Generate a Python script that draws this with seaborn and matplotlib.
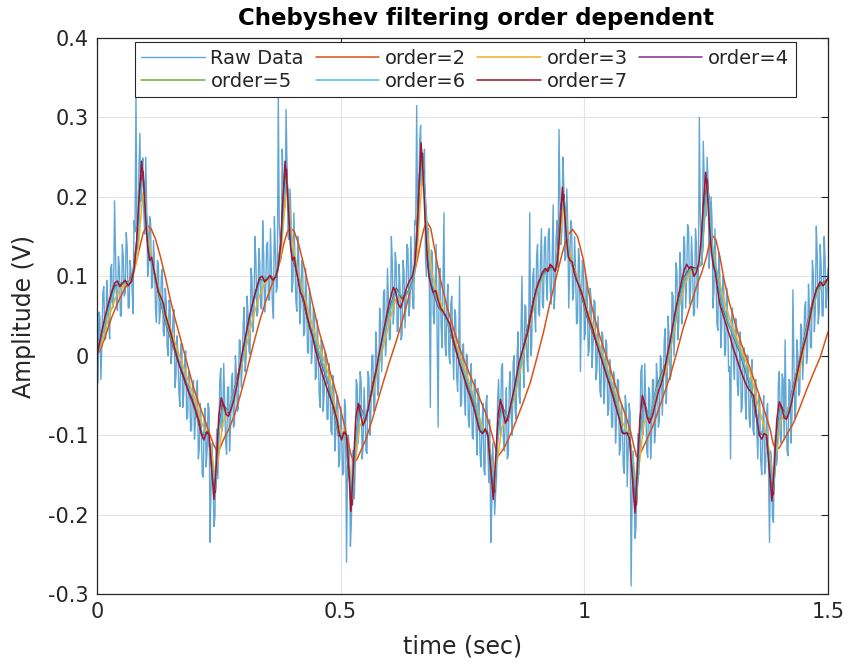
import numpy as np
import matplotlib
matplotlib.use("Agg")
import matplotlib.pyplot as plt
from matplotlib.ticker import FormatStrFormatter
import seaborn as sns

# ---------------- data ----------------
# raw samples (V) on the even 4 ms grid from 0 to 1.5 s
raw_v = [
    # period 1
    0.010, 0.055, -0.030, 0.080, 0.020, 0.095, 0.040, 0.110, 0.060, 0.195,
    0.065, 0.125, 0.050, 0.140, 0.075, 0.155, 0.060, 0.120, 0.085, 0.170,
    0.330, 0.150, 0.280, 0.230, 0.180, 0.250, 0.100, 0.175, 0.085, 0.145,
    0.060, 0.120, 0.040, 0.100, 0.030, 0.085, 0.010, 0.070, -0.010, 0.050,
    -0.040, 0.025, -0.045, 0.015, -0.065, -0.005, -0.080, -0.020, -0.095, -0.035,
    -0.105, -0.045, -0.130, -0.060, -0.150, -0.080, -0.140, -0.060, -0.235, -0.110,
    -0.215, -0.120, -0.155, -0.030, -0.095, -0.010, -0.110, -0.040, -0.120, -0.030,
    -0.090, 0.000, -0.070, 0.020, -0.040,
    # period 2
    0.040, -0.020, 0.075, 0.005, 0.110, 0.030, 0.150, 0.050, 0.135, 0.060,
    0.170, 0.055, 0.140, 0.070, 0.160, 0.065, 0.175, 0.080, 0.330, 0.140,
    0.260, 0.190, 0.310, 0.150, 0.210, 0.080, 0.180, 0.070, 0.150, 0.040,
    0.120, 0.025, 0.110, 0.005, 0.085, -0.010, 0.060, -0.030, 0.045, -0.050,
    0.020, -0.070, 0.005, -0.080, -0.010, -0.095, -0.025, -0.120, -0.050, -0.140,
    -0.065, -0.150, -0.055, -0.260, -0.100, -0.240, -0.130, -0.180, -0.030, -0.110,
    -0.020, -0.130, -0.040, -0.120, -0.020, -0.100,
    # period 3
    0.000, -0.070, 0.030, -0.050, 0.060, -0.020, 0.080, 0.000, 0.110, 0.020,
    0.150, 0.040, 0.130, 0.030, 0.115, 0.020, 0.120, 0.035, 0.140, 0.050,
    0.150, 0.060, 0.170, 0.315, 0.180, 0.290, 0.220, 0.260, 0.100, 0.160,
    -0.065, 0.130, 0.040, 0.140, -0.090, 0.110, 0.010, 0.180, 0.000, 0.090,
    -0.010, 0.075, -0.030, 0.050, -0.045, 0.100, -0.060, 0.015, -0.075, 0.000,
    -0.090, -0.010, -0.105, -0.030, -0.125, -0.050, -0.140, -0.060, -0.150, -0.050,
    -0.160, -0.235, -0.110, -0.200, -0.150, -0.030, -0.100, -0.010, -0.120, -0.040,
    -0.125, -0.020, -0.100, 0.000,
    # period 4
    -0.080, 0.030, -0.060, 0.100, -0.040, 0.060, -0.020, 0.180, 0.010, 0.110,
    0.030, 0.140, 0.050, 0.160, 0.060, 0.150, 0.070, 0.160, 0.065, 0.190,
    0.080, 0.170, 0.285, 0.140, 0.250, 0.120, 0.210, 0.060, 0.170, 0.070,
    0.150, 0.040, 0.135, -0.020, 0.120, 0.020, 0.100, 0.000, 0.085, -0.015,
    0.070, -0.030, 0.050, -0.045, 0.030, -0.060, 0.020, -0.075, -0.005, -0.090,
    -0.020, -0.110, -0.030, -0.125, -0.060, -0.140, -0.050, -0.165, -0.060, -0.290,
    -0.120, -0.230, -0.140, -0.150, -0.020, -0.100, -0.010, -0.120, -0.040, -0.130,
    -0.030, -0.110, -0.010, -0.090, 0.000, -0.075, 0.020,
    # period 5
    -0.060, 0.050, -0.030, 0.080, 0.000, 0.117, 0.020, 0.130, 0.040, 0.150,
    0.060, 0.165, 0.065, 0.150, 0.050, 0.160, 0.060, 0.300, 0.140, 0.270,
    0.180, 0.250, 0.110, 0.200, 0.060, 0.160, 0.040, 0.130, 0.010, 0.100,
    0.000, 0.085, -0.020, -0.130, 0.060, -0.030, 0.045, -0.050, 0.030, -0.065,
    0.010, -0.080, 0.000, -0.090, -0.005, -0.100, -0.030, -0.130, -0.060, -0.150,
    -0.050, -0.140, -0.060, -0.235, -0.130, -0.210, -0.100, -0.130, -0.020, -0.110,
    -0.030, 0.020, -0.120, -0.030, -0.110, 0.083, -0.080, 0.020, -0.050, 0.040,
    -0.030, 0.060, -0.010, 0.090, 0.010, 0.120, 0.030, 0.163, 0.040, 0.140,
    0.050, 0.150, 0.060, 0.110,
]

# raw samples (V) taken half-way between the samples above (2 ms later)
raw_mid = [
    # period 1
    -0.034, 0.048, 0.015, 0.087, 0.022, 0.072, 0.021, 0.115, 0.067, 0.132,
    0.057, 0.110, 0.050, 0.123, 0.079, 0.136, 0.060, 0.105, 0.053, 0.156,
    0.134, 0.234, 0.194, 0.249, 0.153, 0.184, 0.114, 0.167, 0.087, 0.114,
    0.042, 0.117, 0.055, 0.109, 0.025, 0.069, 0.000, 0.062, 0.008, 0.058,
    -0.026, 0.004, -0.064, 0.015, -0.047, 0.006, -0.077, -0.028, -0.094, -0.031,
    -0.083, -0.031, -0.116, -0.087, -0.153, -0.066, -0.118, -0.067, -0.167, -0.145,
    -0.203, -0.092, -0.098, -0.016, -0.089, -0.057, -0.124, -0.039, -0.090, -0.022,
    -0.087, -0.021, -0.067, 0.019, -0.012,
    # period 2
    0.061, -0.002, 0.051, 0.002, 0.098, 0.053, 0.122, 0.055, 0.117, 0.059,
    0.126, 0.080, 0.143, 0.070, 0.108, 0.047, 0.135, 0.087, 0.164, 0.122,
    0.220, 0.187, 0.237, 0.146, 0.176, 0.092, 0.127, 0.056, 0.126, 0.060,
    0.113, 0.030, 0.074, 0.003, 0.064, 0.009, 0.058, -0.027, 0.003, -0.065,
    0.013, -0.050, 0.002, -0.080, -0.032, -0.099, -0.039, -0.098, -0.050, -0.132,
    -0.091, -0.148, -0.068, -0.144, -0.123, -0.209, -0.119, -0.135, -0.038, -0.081,
    -0.033, -0.115, -0.072, -0.123, -0.027, -0.071,
    # period 3
    0.001, -0.063, 0.005, -0.040, 0.043, 0.010, 0.083, 0.020, 0.070, 0.021,
    0.117, 0.064, 0.116, 0.032, 0.083, 0.026, 0.105, 0.068, 0.135, 0.065,
    0.110, 0.059, 0.165, 0.153, 0.268, 0.213, 0.235, 0.125, 0.154, 0.085,
    0.133, 0.052, 0.090, 0.025, 0.101, 0.040, 0.096, 0.017, 0.067, 0.003,
    0.065, 0.009, 0.058, -0.026, 0.004, -0.064, 0.013, -0.050, 0.002, -0.081,
    -0.033, -0.101, -0.039, -0.093, -0.041, -0.123, -0.087, -0.145, -0.060, -0.118,
    -0.080, -0.191, -0.146, -0.173, -0.058, -0.078, -0.016, -0.105, -0.073, -0.130,
    -0.036, -0.079, -0.008, -0.069,
    # period 4
    0.000, -0.049, 0.031, -0.006, 0.064, -0.002, 0.047, 0.000, 0.099, 0.055,
    0.124, 0.057, 0.119, 0.065, 0.139, 0.094, 0.154, 0.083, 0.123, 0.059,
    0.147, 0.111, 0.203, 0.158, 0.213, 0.123, 0.164, 0.107, 0.162, 0.079,
    0.109, 0.042, 0.121, 0.060, 0.112, 0.028, 0.074, 0.007, 0.070, 0.017,
    0.067, -0.016, 0.016, -0.052, 0.025, -0.038, 0.014, -0.068, -0.021, -0.090,
    -0.029, -0.082, -0.031, -0.117, -0.085, -0.148, -0.063, -0.119, -0.073, -0.178,
    -0.159, -0.215, -0.098, -0.098, -0.012, -0.086, -0.057, -0.128, -0.047, -0.099,
    -0.030, -0.095, -0.030, -0.082, -0.004, -0.039, 0.034,
    # period 5
    -0.029, 0.022, -0.024, 0.075, 0.034, 0.106, 0.043, 0.110, 0.060, 0.139,
    0.098, 0.157, 0.081, 0.117, 0.053, 0.142, 0.095, 0.175, 0.135, 0.227,
    0.176, 0.218, 0.136, 0.171, 0.082, 0.109, 0.032, 0.102, 0.037, 0.089,
    0.006, 0.054, -0.014, 0.047, -0.006, 0.047, -0.036, -0.004, -0.071, 0.008,
    -0.054, 0.001, -0.077, -0.025, -0.093, -0.035, -0.095, -0.050, -0.133, -0.092,
    -0.149, -0.072, -0.150, -0.120, -0.203, -0.120, -0.138, -0.037, -0.076, -0.023,
    -0.106, -0.069, -0.126, -0.033, -0.078, -0.005, -0.066, 0.002, -0.046, 0.034,
    -0.002, 0.068, 0.005, 0.059, 0.010, 0.103, 0.058, 0.126, 0.056, 0.112,
    0.050, 0.122, 0.081,
]

# order=2 filter output: (time, value)
order2 = [
    (0.000, 0.000), (0.010, 0.012), (0.020, 0.030), (0.030, 0.048), (0.042, 0.066),
    (0.055, 0.082), (0.068, 0.096), (0.078, 0.112), (0.087, 0.135), (0.095, 0.155),
    (0.103, 0.164), (0.111, 0.160), (0.120, 0.147), (0.130, 0.125), (0.140, 0.100),
    (0.150, 0.072), (0.160, 0.047), (0.172, 0.020), (0.185, -0.010), (0.198, -0.040),
    (0.210, -0.062), (0.222, -0.082), (0.232, -0.100), (0.240, -0.113), (0.246, -0.120),
    (0.252, -0.117), (0.260, -0.105), (0.270, -0.093), (0.282, -0.075), (0.294, -0.050),
    (0.307, -0.020), (0.320, 0.012), (0.333, 0.042), (0.346, 0.068), (0.358, 0.088),
    (0.368, 0.103), (0.376, 0.120), (0.383, 0.140), (0.390, 0.155), (0.397, 0.161),
    (0.405, 0.156), (0.414, 0.140), (0.424, 0.115), (0.434, 0.088), (0.445, 0.058),
    (0.456, 0.030), (0.468, 0.005), (0.478, -0.020), (0.490, -0.045), (0.499, -0.066),
    (0.508, -0.088), (0.515, -0.108), (0.521, -0.124), (0.527, -0.134), (0.533, -0.131),
    (0.541, -0.120), (0.552, -0.105), (0.565, -0.080), (0.577, -0.055), (0.587, -0.034),
    (0.600, -0.008), (0.615, 0.020), (0.627, 0.045), (0.638, 0.070), (0.648, 0.095),
    (0.657, 0.120), (0.665, 0.145), (0.671, 0.160), (0.677, 0.169), (0.685, 0.160),
    (0.694, 0.130), (0.705, 0.095), (0.718, 0.062), (0.731, 0.035), (0.745, 0.008),
    (0.758, -0.013), (0.772, -0.034), (0.786, -0.055), (0.800, -0.076), (0.810, -0.098),
    (0.816, -0.112), (0.822, -0.127), (0.829, -0.122), (0.838, -0.113), (0.848, -0.100),
    (0.860, -0.082), (0.875, -0.058), (0.889, -0.034), (0.903, -0.002), (0.916, 0.029),
    (0.930, 0.068), (0.943, 0.100), (0.955, 0.130), (0.966, 0.152), (0.976, 0.159),
    (0.986, 0.150), (0.998, 0.121), (1.008, 0.082), (1.020, 0.050), (1.033, 0.022),
    (1.046, -0.002), (1.060, -0.030), (1.073, -0.055), (1.085, -0.076), (1.094, -0.093),
    (1.101, -0.112), (1.107, -0.127), (1.114, -0.124), (1.125, -0.110), (1.141, -0.088),
    (1.158, -0.058), (1.176, -0.026), (1.190, 0.005), (1.203, 0.035), (1.217, 0.062),
    (1.230, 0.087), (1.241, 0.105), (1.251, 0.125), (1.257, 0.143), (1.262, 0.152),
    (1.270, 0.146), (1.278, 0.125), (1.287, 0.095), (1.297, 0.068), (1.310, 0.040),
    (1.322, 0.015), (1.334, -0.005), (1.346, -0.026), (1.358, -0.048), (1.370, -0.070),
    (1.381, -0.092), (1.388, -0.112), (1.394, -0.118), (1.400, -0.116), (1.410, -0.105),
    (1.429, -0.085), (1.443, -0.064), (1.456, -0.043), (1.470, -0.022), (1.484, -0.002),
    (1.500, 0.030),
]

# shared time points for orders 3..6
t_mid = [
    0.000, 0.012, 0.024, 0.036, 0.048, 0.060, 0.072, 0.0835, 0.0885, 0.0945, 0.0995, 0.1055, 0.1135,
    0.1265, 0.1415, 0.1615, 0.1815, 0.2015, 0.215, 0.228, 0.236, 0.243, 0.250, 0.258, 0.270, 0.285,
    0.297, 0.309, 0.321, 0.333, 0.345, 0.357, 0.369, 0.378, 0.383, 0.389, 0.394, 0.400, 0.408,
    0.421, 0.436, 0.456, 0.476, 0.496, 0.509, 0.517, 0.524, 0.531, 0.539, 0.551, 0.566,
    0.578, 0.590, 0.602, 0.614, 0.626, 0.638, 0.650, 0.657, 0.662, 0.668, 0.673, 0.679, 0.687,
    0.700, 0.715, 0.735, 0.755, 0.775, 0.788, 0.801, 0.809, 0.816, 0.823, 0.831, 0.843, 0.858,
    0.870, 0.882, 0.894, 0.906, 0.918, 0.930, 0.942, 0.947, 0.952, 0.958, 0.963, 0.969, 0.977,
    0.990, 1.005, 1.025, 1.045, 1.065, 1.079, 1.092, 1.100, 1.107, 1.114, 1.122, 1.134, 1.149,
    1.170, 1.182, 1.194, 1.206, 1.218, 1.230, 1.241, 1.246, 1.252, 1.257, 1.263, 1.271,
    1.284, 1.299, 1.319, 1.339, 1.360, 1.373, 1.381, 1.388, 1.395, 1.403, 1.415, 1.430,
    1.442, 1.454, 1.466, 1.478, 1.490, 1.500,
]

order3 = [
    0.000, 0.020, 0.048, 0.070, 0.085, 0.090, 0.096, 0.125, 0.165, 0.205, 0.190, 0.150, 0.118,
    0.085, 0.052, 0.014, -0.022, -0.056, -0.085, -0.100, -0.125, -0.155, -0.125, -0.085, -0.070, -0.042,
    -0.012, 0.018, 0.050, 0.075, 0.092, 0.098, 0.102, 0.130, 0.170, 0.210, 0.192, 0.150, 0.118,
    0.085, 0.050, 0.012, -0.025, -0.088, -0.105, -0.135, -0.165, -0.130, -0.088, -0.078, -0.045,
    -0.012, 0.018, 0.048, 0.072, 0.070, 0.080, 0.095, 0.130, 0.180, 0.228, 0.205, 0.150, 0.105,
    0.075, 0.050, 0.018, -0.018, -0.055, -0.085, -0.100, -0.128, -0.155, -0.125, -0.090, -0.078, -0.050,
    -0.015, 0.022, 0.055, 0.085, 0.103, 0.108, 0.110, 0.125, 0.160, 0.190, 0.175, 0.135, 0.115,
    0.092, 0.060, 0.025, -0.012, -0.050, -0.085, -0.100, -0.130, -0.165, -0.130, -0.085, -0.075, -0.048,
    -0.015, 0.025, 0.060, 0.090, 0.105, 0.108, 0.120, 0.165, 0.200, 0.185, 0.140, 0.110,
    0.075, 0.045, 0.012, -0.018, -0.070, -0.098, -0.125, -0.155, -0.122, -0.082, -0.070, -0.045,
    -0.018, 0.020, 0.055, 0.078, 0.090, 0.092,
]

order4 = [
    0.000, 0.032, 0.062, 0.088, 0.090, 0.093, 0.094, 0.155, 0.215, 0.232, 0.190, 0.130, 0.115,
    0.078, 0.040, 0.002, -0.035, -0.068, -0.100, -0.096, -0.145, -0.172, -0.090, -0.060, -0.072, -0.035,
    -0.005, 0.035, 0.070, 0.096, 0.095, 0.099, 0.099, 0.150, 0.210, 0.235, 0.175, 0.125, 0.110,
    0.074, 0.036, 0.000, -0.038, -0.101, -0.097, -0.150, -0.188, -0.105, -0.062, -0.082, -0.035,
    -0.005, 0.032, 0.062, 0.085, 0.072, 0.080, 0.096, 0.165, 0.230, 0.255, 0.200, 0.115, 0.085,
    0.062, 0.050, 0.010, -0.028, -0.062, -0.096, -0.096, -0.140, -0.172, -0.090, -0.062, -0.082, -0.040,
    -0.005, 0.030, 0.065, 0.093, 0.105, 0.112, 0.108, 0.145, 0.190, 0.203, 0.160, 0.122, 0.112,
    0.086, 0.050, 0.016, -0.020, -0.058, -0.098, -0.098, -0.145, -0.188, -0.100, -0.058, -0.080, -0.038,
    -0.005, 0.035, 0.070, 0.100, 0.112, 0.110, 0.115, 0.185, 0.222, 0.190, 0.125, 0.105,
    0.060, 0.035, 0.004, -0.035, -0.098, -0.100, -0.140, -0.175, -0.100, -0.062, -0.078, -0.035,
    -0.005, 0.030, 0.062, 0.085, 0.092, 0.096,
]

order5 = [
    0.000, 0.030, 0.060, 0.085, 0.091, 0.092, 0.095, 0.148, 0.205, 0.225, 0.192, 0.135, 0.114,
    0.080, 0.042, 0.004, -0.032, -0.066, -0.098, -0.098, -0.140, -0.168, -0.095, -0.065, -0.070, -0.037,
    -0.006, 0.033, 0.068, 0.094, 0.097, 0.098, 0.100, 0.145, 0.200, 0.228, 0.180, 0.128, 0.112,
    0.076, 0.038, 0.002, -0.036, -0.099, -0.099, -0.145, -0.180, -0.110, -0.066, -0.080, -0.037,
    -0.006, 0.030, 0.060, 0.083, 0.074, 0.079, 0.095, 0.158, 0.220, 0.248, 0.205, 0.120, 0.090,
    0.064, 0.049, 0.012, -0.026, -0.060, -0.094, -0.098, -0.136, -0.168, -0.095, -0.066, -0.080, -0.042,
    -0.006, 0.028, 0.062, 0.091, 0.104, 0.110, 0.109, 0.140, 0.182, 0.198, 0.165, 0.125, 0.110,
    0.088, 0.052, 0.018, -0.018, -0.056, -0.096, -0.099, -0.140, -0.182, -0.105, -0.062, -0.078, -0.040,
    -0.006, 0.033, 0.068, 0.098, 0.110, 0.109, 0.116, 0.178, 0.215, 0.192, 0.130, 0.106,
    0.062, 0.036, 0.006, -0.033, -0.096, -0.101, -0.136, -0.170, -0.105, -0.066, -0.076, -0.037,
    -0.006, 0.028, 0.060, 0.083, 0.091, 0.095,
]

order6 = [
    0.000, 0.028, 0.058, 0.083, 0.092, 0.091, 0.096, 0.145, 0.200, 0.222, 0.195, 0.138, 0.113,
    0.082, 0.044, 0.006, -0.030, -0.064, -0.096, -0.100, -0.138, -0.166, -0.098, -0.068, -0.070, -0.039,
    -0.008, 0.031, 0.066, 0.092, 0.098, 0.097, 0.101, 0.142, 0.195, 0.222, 0.183, 0.130, 0.113,
    0.078, 0.040, 0.004, -0.034, -0.097, -0.101, -0.142, -0.176, -0.112, -0.068, -0.079, -0.039,
    -0.008, 0.028, 0.058, 0.081, 0.076, 0.078, 0.094, 0.152, 0.213, 0.240, 0.208, 0.125, 0.093,
    0.066, 0.048, 0.014, -0.024, -0.058, -0.092, -0.100, -0.133, -0.165, -0.098, -0.068, -0.079, -0.044,
    -0.008, 0.026, 0.060, 0.089, 0.103, 0.108, 0.110, 0.137, 0.178, 0.195, 0.168, 0.127, 0.109,
    0.090, 0.054, 0.020, -0.016, -0.054, -0.094, -0.100, -0.137, -0.178, -0.108, -0.064, -0.077, -0.042,
    -0.008, 0.031, 0.066, 0.096, 0.108, 0.108, 0.117, 0.173, 0.210, 0.194, 0.133, 0.107,
    0.064, 0.037, 0.008, -0.031, -0.094, -0.102, -0.133, -0.167, -0.108, -0.068, -0.075, -0.039,
    -0.008, 0.026, 0.058, 0.081, 0.090, 0.094,
]

# order=7 filter output: (time, value)
order7 = [
    (0.000, 0.000), (0.008, 0.025), (0.016, 0.048), (0.024, 0.067), (0.031, 0.082), (0.037, 0.092),
    (0.042, 0.094), (0.047, 0.087), (0.053, 0.092), (0.058, 0.095), (0.064, 0.088), (0.070, 0.093),
    (0.076, 0.108), (0.081, 0.140), (0.086, 0.195), (0.0915, 0.245), (0.096, 0.215), (0.100, 0.170),
    (0.104, 0.138), (0.108, 0.120), (0.112, 0.124), (0.116, 0.110), (0.121, 0.095), (0.126, 0.080),
    (0.131, 0.074), (0.136, 0.066), (0.141, 0.050), (0.147, 0.038), (0.153, 0.025), (0.160, 0.008),
    (0.167, -0.008), (0.174, -0.020), (0.181, -0.032), (0.188, -0.045), (0.195, -0.055), (0.202, -0.068),
    (0.209, -0.082), (0.214, -0.098), (0.219, -0.106), (0.225, -0.096), (0.230, -0.100), (0.235, -0.140),
    (0.240, -0.181), (0.245, -0.135), (0.250, -0.075), (0.255, -0.053), (0.260, -0.062), (0.265, -0.074),
    (0.270, -0.076), (0.275, -0.068), (0.281, -0.055), (0.287, -0.038), (0.292, -0.018),
    (0.297, 0.000), (0.305, 0.025), (0.313, 0.050), (0.321, 0.070), (0.328, 0.086), (0.334, 0.098),
    (0.339, 0.100), (0.344, 0.093), (0.350, 0.097), (0.355, 0.101), (0.361, 0.095), (0.367, 0.100),
    (0.372, 0.112), (0.377, 0.140), (0.381, 0.190), (0.386, 0.245), (0.390, 0.215), (0.394, 0.170),
    (0.397, 0.138), (0.401, 0.120), (0.405, 0.124), (0.408, 0.110), (0.413, 0.095), (0.417, 0.080),
    (0.422, 0.074), (0.426, 0.066), (0.431, 0.050), (0.436, 0.038), (0.442, 0.025), (0.448, 0.008),
    (0.455, -0.008), (0.461, -0.020), (0.467, -0.032), (0.474, -0.045), (0.480, -0.055), (0.487, -0.068),
    (0.493, -0.082), (0.497, -0.098), (0.502, -0.106), (0.507, -0.096), (0.512, -0.100), (0.517, -0.145),
    (0.521, -0.196), (0.526, -0.140), (0.531, -0.078), (0.536, -0.060), (0.541, -0.075), (0.546, -0.088),
    (0.551, -0.080), (0.556, -0.068), (0.562, -0.050), (0.568, -0.032), (0.573, -0.018),
    (0.578, 0.000), (0.586, 0.025), (0.594, 0.050), (0.601, 0.070), (0.608, 0.086), (0.613, 0.080),
    (0.618, 0.065), (0.623, 0.060), (0.629, 0.072), (0.635, 0.085), (0.641, 0.094), (0.647, 0.100),
    (0.652, 0.115), (0.656, 0.145), (0.660, 0.200), (0.665, 0.268), (0.669, 0.230), (0.673, 0.175),
    (0.677, 0.130), (0.681, 0.100), (0.685, 0.090), (0.690, 0.080), (0.695, 0.082), (0.700, 0.070),
    (0.705, 0.060), (0.711, 0.055), (0.717, 0.048), (0.724, 0.040), (0.731, 0.020), (0.738, 0.004),
    (0.745, -0.012), (0.752, -0.025), (0.759, -0.040), (0.766, -0.052), (0.773, -0.065), (0.779, -0.080),
    (0.785, -0.094), (0.791, -0.098), (0.797, -0.092), (0.802, -0.100), (0.807, -0.135), (0.813, -0.181),
    (0.818, -0.130), (0.823, -0.075), (0.828, -0.055), (0.833, -0.070), (0.838, -0.085), (0.843, -0.078),
    (0.849, -0.062), (0.855, -0.045), (0.861, -0.025), (0.866, -0.008),
    (0.870, 0.000), (0.877, 0.015), (0.884, 0.030), (0.890, 0.050), (0.896, 0.070), (0.902, 0.085),
    (0.908, 0.095), (0.914, 0.105), (0.920, 0.110), (0.925, 0.106), (0.930, 0.115), (0.935, 0.112),
    (0.940, 0.106), (0.945, 0.120), (0.950, 0.160), (0.955, 0.212), (0.959, 0.185), (0.963, 0.150),
    (0.967, 0.125), (0.971, 0.120), (0.975, 0.118), (0.979, 0.105), (0.984, 0.095), (0.989, 0.088),
    (0.994, 0.080), (0.999, 0.070), (1.004, 0.058), (1.010, 0.046), (1.016, 0.036), (1.023, 0.020),
    (1.030, 0.006), (1.037, -0.008), (1.044, -0.022), (1.051, -0.035), (1.058, -0.050), (1.065, -0.065),
    (1.072, -0.080), (1.077, -0.096), (1.082, -0.098), (1.088, -0.097), (1.093, -0.105), (1.098, -0.150),
    (1.104, -0.198), (1.109, -0.140), (1.114, -0.080), (1.119, -0.050), (1.124, -0.060), (1.129, -0.078),
    (1.134, -0.085), (1.140, -0.075), (1.146, -0.060), (1.152, -0.045), (1.158, -0.035), (1.164, -0.020),
    (1.170, 0.000), (1.176, 0.018), (1.182, 0.040), (1.188, 0.060), (1.194, 0.078), (1.200, 0.095),
    (1.205, 0.108), (1.210, 0.115), (1.215, 0.110), (1.220, 0.112), (1.225, 0.100), (1.230, 0.105),
    (1.236, 0.120), (1.240, 0.150), (1.244, 0.190), (1.249, 0.231), (1.253, 0.200), (1.257, 0.160),
    (1.261, 0.130), (1.265, 0.112), (1.269, 0.105), (1.273, 0.085), (1.278, 0.065), (1.283, 0.055),
    (1.288, 0.045), (1.293, 0.035), (1.299, 0.024), (1.305, 0.010), (1.311, 0.000), (1.317, -0.012),
    (1.323, -0.022), (1.329, -0.032), (1.335, -0.040), (1.341, -0.045), (1.347, -0.050), (1.353, -0.075),
    (1.359, -0.100), (1.364, -0.105), (1.369, -0.098), (1.374, -0.100), (1.379, -0.140), (1.385, -0.183),
    (1.390, -0.135), (1.395, -0.080), (1.400, -0.058), (1.405, -0.065), (1.410, -0.078), (1.415, -0.080),
    (1.420, -0.072), (1.425, -0.060), (1.431, -0.040), (1.437, -0.022), (1.443, -0.005), (1.449, 0.010),
    (1.456, 0.025), (1.463, 0.048), (1.470, 0.070), (1.477, 0.085), (1.484, 0.093), (1.490, 0.088),
    (1.495, 0.092), (1.500, 0.098),
]

series_labels = ["Raw Data", "order=2", "order=3", "order=4", "order=5", "order=6", "order=7"]
x_ticks = [0, 0.5, 1, 1.5]
y_ticks = [-0.3, -0.2, -0.1, 0, 0.1, 0.2, 0.3, 0.4]

# ---------------- style ----------------
sns.set_style("white")
plt.rcParams["font.family"] = ["DejaVu Sans"]

colors = {
    "Raw Data": "#0072BD",
    "order=2": "#D95319",
    "order=3": "#EDB120",
    "order=4": "#7E2F8E",
    "order=5": "#77AC30",
    "order=6": "#4DBEEE",
    "order=7": "#A2142F",
}

fig = plt.figure(figsize=(8.5, 6.65), dpi=100)
ax = fig.add_axes([97 / 850, 1 - 594 / 665, 731 / 850, 556 / 665])

# merge the two raw sample sets by time
t_a = np.linspace(0, 1.5, len(raw_v))
step = t_a[1] - t_a[0]
n_m = min(len(raw_mid), len(raw_v) - 1)
t_b = t_a[:n_m] + step / 2
t_raw = np.concatenate([t_a, t_b])
v_raw = np.concatenate([np.asarray(raw_v), np.asarray(raw_mid[:n_m])])
idx = np.argsort(t_raw, kind="stable")
t_raw, v_raw = t_raw[idx], v_raw[idx]

sns.lineplot(x=t_raw, y=v_raw, ax=ax, color=colors["Raw Data"], alpha=0.62,
             lw=1.0, label="Raw Data", sort=False, estimator=None)

t2, v2 = zip(*order2)
sns.lineplot(x=list(t2), y=list(v2), ax=ax, color=colors["order=2"], lw=1.1,
             label="order=2", sort=False, estimator=None)

for name, vals in [("order=3", order3), ("order=4", order4),
                   ("order=5", order5), ("order=6", order6)]:
    n = min(len(t_mid), len(vals))
    sns.lineplot(x=t_mid[:n], y=vals[:n], ax=ax, color=colors[name], lw=1.1,
                 label=name, sort=False, estimator=None)

t7, v7 = zip(*order7)
sns.lineplot(x=list(t7), y=list(v7), ax=ax, color=colors["order=7"], lw=1.1,
             label="order=7", sort=False, estimator=None)

ax.set_xlim(0, 1.5)
ax.set_ylim(-0.3, 0.4)
ax.set_xticks(x_ticks)
ax.set_yticks(y_ticks)
ax.xaxis.set_major_formatter(FormatStrFormatter("%g"))
ax.yaxis.set_major_formatter(FormatStrFormatter("%g"))
ax.grid(True, color="#e3e3e3", lw=0.8)
ax.set_axisbelow(True)
ax.tick_params(direction="in", top=True, right=True, length=5, width=0.8,
               colors="#262626", labelsize=15, pad=6)
for s in ax.spines.values():
    s.set_color("#262626")
    s.set_linewidth(0.9)

ax.set_xlabel("time (sec)", fontsize=17, color="#262626", labelpad=9)
ax.set_ylabel("Amplitude (V)", fontsize=17, color="#262626", labelpad=9)
ax.set_title("Chebyshev filtering order dependent", fontsize=16.5,
             fontweight="bold", color="black", pad=9, x=0.519)

handles, labels = ax.get_legend_handles_labels()
hmap = dict(zip(labels, handles))
order = ["Raw Data", "order=5", "order=2", "order=6", "order=3", "order=7", "order=4"]
leg = ax.legend([hmap[k] for k in order], order, ncol=4, loc="upper center",
                bbox_to_anchor=(0.504, 0.993), borderaxespad=0, fontsize=14,
                handlelength=3.25, handletextpad=0.3, columnspacing=0.6,
                labelspacing=0.2, borderpad=0.35, fancybox=False, framealpha=1,
                edgecolor="#262626")
leg.get_frame().set_linewidth(0.8)

fig.savefig("out.png", dpi=100)
